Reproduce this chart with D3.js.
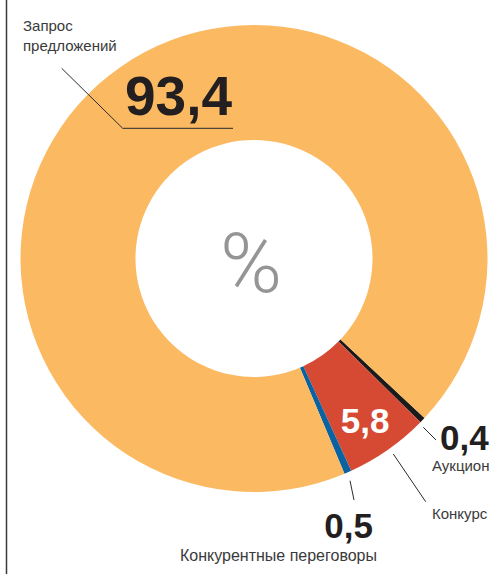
<!DOCTYPE html>
<html>
<head>
<meta charset="utf-8">
<script src="https://cdn.jsdelivr.net/npm/d3@7"></script>
<style>
  body { margin: 0; background: #fff; }
  svg { display: block; }
  .lbl { font-family: "Liberation Sans", Arial, sans-serif; fill: #3a3a3a; font-size: 15px; }
  .num { font-family: "Liberation Sans", Arial, sans-serif; font-weight: bold; fill: #231f20; }
</style>
</head>
<body>
<div id="chart"></div>
<script>
// data
const categories = ["Аукцион", "Конкурс", "Конкурентные переговоры", "Запрос предложений"];
const values = [0.4, 5.8, 0.5, 93.4];
const valueLabels = ["0,4", "5,8", "0,5", "93,4"];
const colors = ["#1b1b1b", "#d64a34", "#0b62a0", "#fbba62"];

const width = 490, height = 574;
const cx = 254, cy = 258.5;
const outerR = 233.5, innerR = 118.5;

const svg = d3.select("#chart").append("svg")
    .attr("width", width)
    .attr("height", height);

// left rule
svg.append("line")
    .attr("x1", 6.5).attr("x2", 6.5)
    .attr("y1", 0).attr("y2", height)
    .attr("stroke", "#3a3a3a")
    .attr("stroke-width", 1.5);

const pie = d3.pie()
    .sort(null)
    .value(d => d)
    .startAngle(133.1 * Math.PI / 180)
    .endAngle(133.1 * Math.PI / 180 + 2 * Math.PI);

const arc = d3.arc().innerRadius(innerR).outerRadius(outerR);

const g = svg.append("g").attr("transform", "translate(" + cx + "," + cy + ")");

const arcs = pie(values);

g.selectAll("path")
    .data(arcs)
    .enter().append("path")
    .attr("d", arc)
    .attr("fill", (d, i) => colors[i]);

// percent sign in the hole
g.append("text")
    .attr("x", -3)
    .attr("y", 33)
    .attr("text-anchor", "middle")
    .style("font-family", "Roboto, 'Open Sans', sans-serif")
    .style("font-weight", 300)
    .style("font-size", "84px")
    .style("fill", "#959595")
    .text("%");

// value inside red slice
const c = arc.centroid(arcs[1]);
g.append("text")
    .attr("class", "num")
    .attr("x", c[0] + 10)
    .attr("y", c[1] + 30)
    .attr("text-anchor", "middle")
    .style("font-size", "35px")
    .style("fill", "#fff")
    .text(valueLabels[1]);

// leader lines
const leaders = [
    [[423.3, 427.3], [436, 440]],
    [[393.3, 454], [425.7, 501.7]],
    [[350, 480.7], [354, 500]],
    [[61.7, 68.3], [122.7, 128.3], [233, 128.3]]
];
svg.selectAll(".leader")
    .data(leaders)
    .enter().append("path")
    .attr("class", "leader")
    .attr("d", d3.line())
    .attr("fill", "none")
    .attr("stroke", "#2a2a2a")
    .attr("stroke-width", 1);

// big numbers
svg.append("text").attr("class", "num")
    .attr("x", 125).attr("y", 115)
    .style("font-size", "55px")
    .text(valueLabels[3]);
svg.append("text").attr("class", "num")
    .attr("x", 440).attr("y", 450)
    .style("font-size", "35px")
    .text(valueLabels[0]);
svg.append("text").attr("class", "num")
    .attr("x", 373).attr("y", 538)
    .attr("text-anchor", "end")
    .style("font-size", "35px")
    .text(valueLabels[2]);

// category names
svg.append("text").attr("class", "lbl")
    .attr("x", 23).attr("y", 31)
    .text("Запрос");
svg.append("text").attr("class", "lbl")
    .attr("x", 23).attr("y", 51)
    .text("предложений");
svg.append("text").attr("class", "lbl")
    .attr("x", 432).attr("y", 471)
    .text(categories[0]);
svg.append("text").attr("class", "lbl")
    .attr("x", 432).attr("y", 519)
    .text(categories[1]);
svg.append("text").attr("class", "lbl")
    .attr("x", 377).attr("y", 561)
    .attr("text-anchor", "end")
    .style("font-size", "16px")
    .text(categories[2]);
</script>
</body>
</html>
